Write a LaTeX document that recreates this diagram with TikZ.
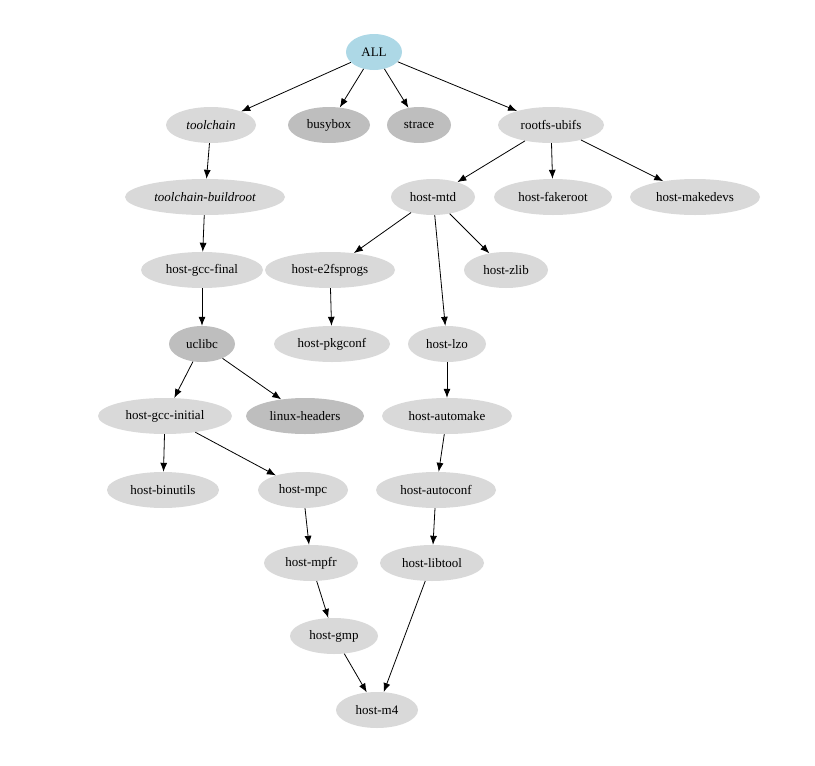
\documentclass[tikz,border=0pt]{standalone}
\usepackage{fontspec}
\setmainfont{Liberation Serif}
\usetikzlibrary{shapes.geometric,arrows.meta}
\definecolor{nodeblue}{HTML}{ADD8E6}
\definecolor{nodelight}{HTML}{D9D9D9}
\definecolor{nodedark}{HTML}{BEBEBE}
\tikzset{
  pkg/.style={ellipse,fill=nodelight,inner sep=0pt,minimum height=36pt,font=\fontsize{13}{15}\selectfont},
  dark/.style={pkg,fill=nodedark},
  dep/.style={-{Latex[length=9pt,width=7pt]},line width=0.8pt}
}
\begin{document}
\begin{tikzpicture}[x=1pt,y=-1pt]
\useasboundingbox (0,0) rectangle (815,766);
% packages
\node [pkg,fill=nodeblue,minimum width=56pt] (all) at (374,52) {ALL};
\node [pkg,minimum width=90pt] (toolchain) at (211,125) {\itshape toolchain};
\node [dark,minimum width=82pt] (busybox) at (329,125) {busybox};
\node [dark,minimum width=64pt] (strace) at (419,125) {strace};
\node [pkg,minimum width=106pt] (rootfs) at (551,125) {rootfs-ubifs};
\node [pkg,minimum width=160pt] (tcbr) at (205,197) {\itshape toolchain-buildroot};
\node [pkg,minimum width=84pt] (mtd) at (433,197) {host-mtd};
\node [pkg,minimum width=118pt] (fakeroot) at (553,197) {host-fakeroot};
\node [pkg,minimum width=130pt] (makedevs) at (695,197) {host-makedevs};
\node [pkg,minimum width=122pt] (gccfinal) at (202,270) {host-gcc-final};
\node [pkg,minimum width=130pt] (e2fs) at (330,270) {host-e2fsprogs};
\node [pkg,minimum width=84pt] (zlib) at (506,270) {host-zlib};
\node [dark,minimum width=66pt] (uclibc) at (202,344) {uclibc};
\node [pkg,minimum width=116pt] (pkgconf) at (332,344) {host-pkgconf};
\node [pkg,minimum width=78pt] (lzo) at (447,344) {host-lzo};
\node [pkg,minimum width=134pt] (gccinit) at (165,416) {host-gcc-initial};
\node [dark,minimum width=118pt] (headers) at (305,416) {linux-headers};
\node [pkg,minimum width=130pt] (automake) at (447,416) {host-automake};
\node [pkg,minimum width=112pt] (binutils) at (163,490) {host-binutils};
\node [pkg,minimum width=90pt] (mpc) at (303,490) {host-mpc};
\node [pkg,minimum width=120pt] (autoconf) at (436,490) {host-autoconf};
\node [pkg,minimum width=94pt] (mpfr) at (311,563) {host-mpfr};
\node [pkg,minimum width=104pt] (libtool) at (432,563) {host-libtool};
\node [pkg,minimum width=88pt] (gmp) at (334,636) {host-gmp};
\node [pkg,minimum width=82pt] (m4) at (377,710) {host-m4};
% dependencies
\foreach \a/\b in {all/toolchain,all/busybox,all/strace,all/rootfs,
  toolchain/tcbr,tcbr/gccfinal,gccfinal/uclibc,uclibc/gccinit,uclibc/headers,
  gccinit/binutils,gccinit/mpc,mpc/mpfr,mpfr/gmp,gmp/m4,
  rootfs/mtd,rootfs/fakeroot,rootfs/makedevs,mtd/e2fs,mtd/zlib,mtd/lzo,
  e2fs/pkgconf,lzo/automake,automake/autoconf,autoconf/libtool,libtool/m4}
  \draw [dep] (\a) -- (\b);
\end{tikzpicture}
\end{document}
